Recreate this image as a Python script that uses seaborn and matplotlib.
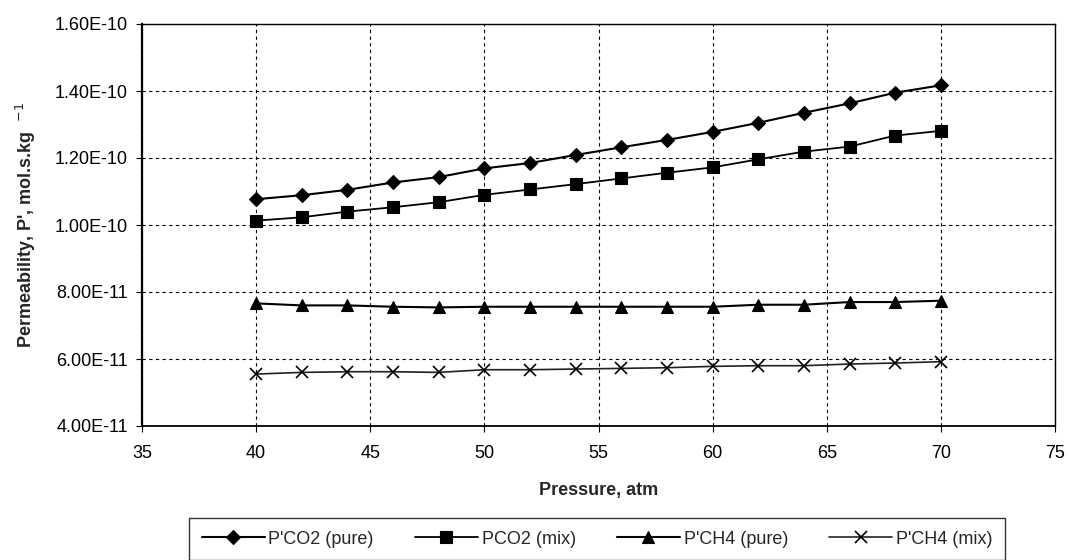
import matplotlib
matplotlib.use("Agg")
import matplotlib.pyplot as plt
import seaborn as sns
import pandas as pd

pressure = [40, 42, 44, 46, 48, 50, 52, 54, 56, 58, 60, 62, 64, 66, 68, 70]
co2_pure = [1.077e-10, 1.089e-10, 1.105e-10, 1.127e-10, 1.143e-10, 1.169e-10, 1.185e-10, 1.209e-10,
            1.232e-10, 1.254e-10, 1.278e-10, 1.305e-10, 1.335e-10, 1.363e-10, 1.395e-10, 1.417e-10]
co2_mix = [1.013e-10, 1.023e-10, 1.040e-10, 1.053e-10, 1.068e-10, 1.090e-10, 1.106e-10, 1.122e-10,
           1.139e-10, 1.156e-10, 1.172e-10, 1.196e-10, 1.219e-10, 1.234e-10, 1.267e-10, 1.281e-10]
ch4_pure = [7.66e-11, 7.60e-11, 7.60e-11, 7.56e-11, 7.54e-11, 7.56e-11, 7.56e-11, 7.56e-11,
            7.56e-11, 7.56e-11, 7.56e-11, 7.62e-11, 7.62e-11, 7.70e-11, 7.70e-11, 7.74e-11]
ch4_mix = [5.55e-11, 5.60e-11, 5.62e-11, 5.62e-11, 5.60e-11, 5.68e-11, 5.68e-11, 5.70e-11,
           5.72e-11, 5.74e-11, 5.78e-11, 5.80e-11, 5.80e-11, 5.85e-11, 5.88e-11, 5.92e-11]
series_names = ["P'CO2 (pure)", "PCO2 (mix)", "P'CH4 (pure)", "P'CH4 (mix)"]

x_ticks = [35, 40, 45, 50, 55, 60, 65, 70, 75]
y_ticks = [4e-11, 6e-11, 8e-11, 1.0e-10, 1.2e-10, 1.4e-10, 1.6e-10]
y_tick_labels = ["4.00E-11", "6.00E-11", "8.00E-11", "1.00E-10", "1.20E-10", "1.40E-10", "1.60E-10"]

sns.set_style("white")
plt.rcParams["font.family"] = ["Liberation Sans", "DejaVu Sans"]

df = pd.concat([
    pd.DataFrame({"pressure": pressure, "perm": vals, "series": name})
    for name, vals in zip(series_names, [co2_pure, co2_mix, ch4_pure, ch4_mix])
])

fig = plt.figure(figsize=(10.69, 5.60), dpi=100)
ax = fig.add_axes([142 / 1069, 1 - 426 / 560, 913 / 1069, 402 / 560])

styles = {
    "P'CO2 (pure)": dict(marker="D", markersize=7, color="black", lw=1.5),
    "PCO2 (mix)": dict(marker="s", markersize=8, color="black", lw=1.3),
    "P'CH4 (pure)": dict(marker="^", markersize=8, color="black", lw=1.5),
    "P'CH4 (mix)": dict(marker="x", markersize=9, color="#222222", lw=1.2, markeredgewidth=1.2),
}
for name in series_names:
    st = styles[name]
    sns.lineplot(data=df[df["series"] == name], x="pressure", y="perm", ax=ax,
                 label=name, color=st["color"], linewidth=st["lw"], marker=st["marker"],
                 markersize=st["markersize"], markeredgecolor="black",
                 markeredgewidth=st.get("markeredgewidth", 0.8), markerfacecolor="black")

ax.set_xlim(x_ticks[0], x_ticks[-1])
ax.set_ylim(y_ticks[0], y_ticks[-1])
ax.set_xticks(x_ticks)
ax.set_yticks(y_ticks)
ax.set_yticklabels(y_tick_labels)

ax.grid(True, color="black", linestyle=(0, (3, 3)), linewidth=0.8)
for s in ["left", "bottom", "top", "right"]:
    ax.spines[s].set_visible(True)
    ax.spines[s].set_color("black")
ax.spines["left"].set_linewidth(1.6)
ax.spines["bottom"].set_linewidth(1.3)
ax.spines["top"].set_linewidth(1.0)
ax.spines["right"].set_linewidth(1.0)

ax.tick_params(axis="both", direction="out", length=4, width=0.8, colors="black",
               labelsize=13, left=True, bottom=True, pad=6)
ax.tick_params(axis="x", pad=10)

ax.set_xlabel("Pressure, atm", fontsize=13, fontweight="bold", labelpad=14)
ax.set_ylabel("Permeability, P', mol.s.kg  $^{-1}$", fontsize=13, fontweight="bold", labelpad=12)

ax.legend_.remove()
handles, labels = ax.get_legend_handles_labels()
leg = fig.legend(handles, labels, loc="upper left", ncol=4, mode="expand",
                 bbox_to_anchor=(189 / 1069, 1 - 518 / 560, 816 / 1069, 0.0),
                 borderaxespad=0.0,
                 frameon=True, fancybox=False, edgecolor="black", fontsize=13,
                 handlelength=3.5, handletextpad=0.2, borderpad=0.7, columnspacing=1.5)
leg.get_frame().set_linewidth(1.0)

fig.savefig("out.png", dpi=100)
